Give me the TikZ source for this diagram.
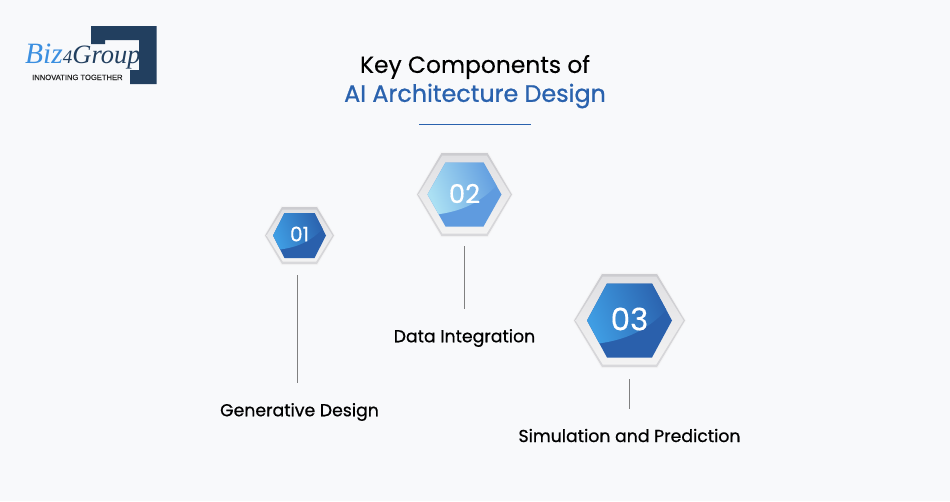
\documentclass[tikz,border=0pt]{standalone}
\usepackage{fontspec}
\setmainfont{Poppins}
\newfontfamily\popt[FakeBold=0.2]{Poppins}
\newfontfamily\popm[FakeBold=0.6]{Poppins}
\newfontfamily\poph[FakeBold=0.9]{Poppins}
\newfontfamily\popn[FakeBold=0.25]{Poppins}
\newfontfamily\logoserif{Liberation Serif}
\newfontfamily\logosans[FakeBold=0.3]{Liberation Sans}
\definecolor{bgc}{HTML}{F8F9FB}
\definecolor{titleblue}{HTML}{2A62AE}
\definecolor{logodark}{HTML}{223F5F}
\definecolor{logoblue}{HTML}{3B8FE0}
\definecolor{basedark}{HTML}{2A60AC}
\definecolor{highdark}{HTML}{3F9DE3}
\definecolor{basepale}{HTML}{5F9BDF}
\definecolor{highpale}{HTML}{ABE0F3}
\definecolor{rimtop}{HTML}{CCCCD0}
\definecolor{rimmid}{HTML}{E8E8EA}
\definecolor{rimlow}{HTML}{F3F3F3}
\definecolor{rimedge}{HTML}{D8D8DB}
\definecolor{ringtop}{HTML}{E0E0E3}
\definecolor{glow}{HTML}{F4F4F5}
\definecolor{stemc}{HTML}{808080}
\tikzset{
  x=1pt,y=-1pt,
  titletext/.style={font=\popt\fontsize{23.4}{28}\selectfont,text=black,inner sep=0pt},
  titleaccent/.style={font=\poph\fontsize{23.8}{28}\selectfont,text=titleblue,inner sep=0pt},
  labeltext/.style={font=\popm\fontsize{17.3}{20}\selectfont,text=black,inner sep=0pt},
  stem/.style={draw=stemc,line width=0.9pt},
  numtext/.style={text=white,inner sep=0pt},
}
\newcommand{\hexpath}[5]{({#1-(#3)},#2) -- ({#1-(#5)},{#2-(#4)}) -- ({#1+(#5)},{#2-(#4)}) -- ({#1+(#3)},#2) -- ({#1+(#5)},{#2+(#4)}) -- ({#1-(#5)},{#2+(#4)}) -- cycle}
% cx cy | outer a b c | inner a b c | base
\newcommand{\hexbadge}[9]{%
  \fill[glow] \hexpath{#1}{#2}{#3+1}{#4+1.2}{#5+0.5};
  \shade[top color=rimtop,middle color=rimmid,bottom color=rimedge] \hexpath{#1}{#2}{#3}{#4}{#5};
  \shade[top color=ringtop,bottom color=rimlow] \hexpath{#1}{#2}{#3-1.5}{#4-2.5}{#5-0.8};
  \fill[#9] \hexpath{#1}{#2}{#6}{#7}{#8};
}
% cx cy | inner a b c | high | base
\newcommand{\highlight}[7]{%
  \begin{scope}
    \clip \hexpath{#1}{#2}{#3}{#4}{#5};
    \shade[left color=#6,right color=#7,shading angle=110]
      (#1-#3,#2-#4) -- (#1+#3,#2-#4) -- (#1+#3,#2-0.45*#4)
      .. controls (#1+0.55*#3,#2+0.15*#4) and (#1+0.05*#3,#2+0.5*#4) .. (#1-0.72*#3,#2+0.62*#4)
      -- (#1-#3,#2+0.62*#4) -- cycle;
  \end{scope}
}
\begin{document}
\begin{tikzpicture}
\useasboundingbox (0,0) rectangle (950,501);
\fill[bgc] (0,0) rectangle (950,501);

% logo
\fill[logodark] (91,26) -- (156.5,26) -- (156.5,84) -- (130,84) -- (130,70) -- (139,70) -- (139,40) -- (105,40) -- (105,44) -- (91,44) -- cycle;
\node[anchor=base west,inner sep=0pt,font=\logoserif\itshape\fontsize{26.5}{27}\selectfont] (logoword) at (25,63)
  {\textcolor{logoblue}{\fontsize{29.5}{27}\selectfont Biz}\textcolor{logodark}{\fontsize{19}{21}\selectfont 4}\textcolor{logodark}{Group}};
\node[anchor=base west,inner sep=0pt,font=\logosans\fontsize{7.6}{8}\selectfont,text=black!85] (logotag) at (32,80) {INNOVATING TOGETHER};

% title
\node[titletext] (title1) at (475,67) {Key Components of};
\node[titleaccent] (title2) at (475,96) {AI Architecture Design};
\coordinate (ruleL) at (419,124.5);
\coordinate (ruleR) at (531,124.5);
\draw[titleblue,line width=1.8pt] (ruleL) -- (ruleR);

% badge 01
\hexbadge{299.5}{235.5}{34.5}{28.5}{17.5}{26.5}{22.5}{15}{basedark}
\highlight{299.5}{235.5}{26.5}{22.5}{15}{highdark}{basedark}
\node[numtext,font=\popn\fontsize{20}{20}\selectfont] (n1) at (299.5,234) {01};

% badge 02
\hexbadge{464.5}{194.5}{47.5}{41.5}{23}{37}{32}{19}{basepale}
\highlight{464.5}{194.5}{37}{32}{19}{highpale}{basepale}
\node[numtext,font=\popn\fontsize{26}{26}\selectfont] (n2) at (464.5,193.5) {02};

% badge 03
\hexbadge{629.5}{320.5}{55.5}{46.5}{27.5}{42.5}{37}{22.5}{basedark}
\highlight{629.5}{320.5}{42.5}{37}{22.5}{highdark}{basedark}
\node[numtext,font=\popn\fontsize{31}{31}\selectfont] (n3) at (629.5,319) {03};

% labels
\node[labeltext] (l1) at (299.5,412) {Generative Design};
\node[labeltext] (l2) at (464.5,338) {Data Integration};
\node[labeltext] (l3) at (629.5,435.5) {Simulation and Prediction};

% connectors
\coordinate (s1a) at (297.5,275);
\coordinate (s1b) at (297.5,383);
\coordinate (s2a) at (464,246);
\coordinate (s2b) at (464,309);
\coordinate (s3a) at (629,379);
\coordinate (s3b) at (629,409);
\draw[stem] (s1a) -- (s1b);
\draw[stem] (s2a) -- (s2b);
\draw[stem] (s3a) -- (s3b);
\end{tikzpicture}
\end{document}
